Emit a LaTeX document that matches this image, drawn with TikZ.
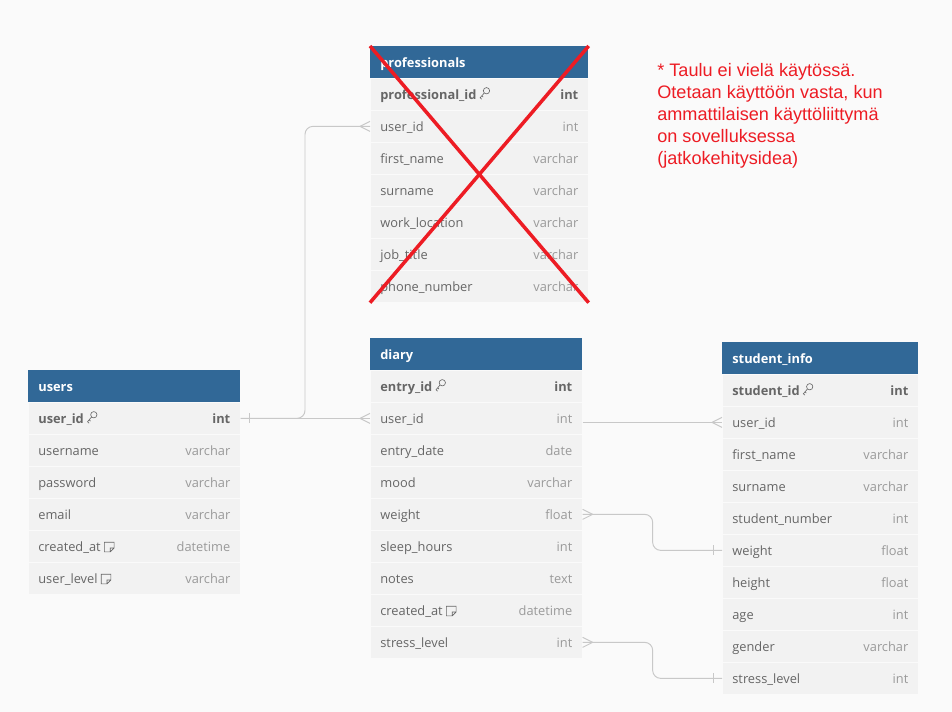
\documentclass[tikz,border=0pt]{standalone}
\usepackage{fontspec}
\setmainfont{Open Sans}
\newfontfamily\notefont{Liberation Sans}
\usetikzlibrary{positioning, calc}

\definecolor{headblue}{HTML}{316897}
\definecolor{rowgrey}{HTML}{F2F2F2}
\definecolor{pagegrey}{HTML}{FAFAFA}
\definecolor{fieldtxt}{HTML}{666666}
\definecolor{typetxt}{HTML}{9A9A9A}
\definecolor{linkgrey}{HTML}{C8C8C8}
\definecolor{crossred}{HTML}{ED1C24}

\newcommand{\keyicon}{\tikz[baseline=0pt,x=1pt,y=1pt,line width=0.35pt,color=fieldtxt]{
  \draw (3.6,5.2) circle (1.8); \draw (2.3,3.9) -- (0,1.2) -- (0.9,0.4) (0.9,2.3) -- (1.7,1.6);}}
\newcommand{\noteicon}{\tikz[baseline=0pt,x=1pt,y=1pt,line width=0.35pt,color=fieldtxt]{
  \draw (0,0) -- (0,5.5) -- (5.5,5.5) -- (5.5,2.2) -- (3.3,0) -- cycle (5.5,2.2) -- (3.3,2.2) -- (3.3,0);}}

\tikzset{
  tabhead/.style={fill=headblue, anchor=north west, minimum height=0.64cm, inner sep=0pt},
  headtext/.style={text=white, font=\bfseries\fontsize{7.3}{9}\selectfont, inner sep=0pt, text height=7pt, text depth=0.7pt},
  fieldrow/.style={fill=rowgrey, draw=pagegrey, line width=0.4pt, anchor=north west, minimum height=0.64cm, inner sep=0pt},
  fieldname/.style={text=fieldtxt, font=\fontsize{7.3}{9}\selectfont, inner sep=0pt, text height=7pt, text depth=0.7pt},
  fieldtype/.style={text=typetxt, font=\fontsize{7.3}{9}\selectfont, inner sep=0pt, text height=7pt, text depth=0.7pt},
  link/.style={draw=linkgrey, line width=0.55pt},
  many/.pic={\draw[link] (-10,0) -- (0,-5) (-10,0) -- (0,5);},
  one/.pic={\draw[link] (0,-5) -- (0,5);},
  note/.style={text=crossred, font=\notefont\fontsize{10.3}{12.5}\selectfont, align=left, inner sep=0pt}
}

\begin{document}
\begin{tikzpicture}[x=0.02cm, y=-0.02cm]
\fill[pagegrey] (0,0) rectangle (952,712);
\useasboundingbox (0,0) rectangle (952,712);

% professionals
\node[tabhead, minimum width=4.36cm] (pros-h) at (370,46) {};
\node[headtext, right=0.2cm of pros-h.west] (pros-ht) {professionals};
\foreach \n/\t [count=\i] in {professional\_id \keyicon/int, user\_id/int, first\_name/varchar,
  surname/varchar, work\_location/varchar, job\_title/varchar, phone\_number/varchar} {
\node[fieldrow, minimum width=4.36cm] (pros-\i) at (370,{78+32*(\i-1)}) {};
\node[fieldname, right=0.2cm of pros-\i.west] (pros-\i-n) {\ifnum\i=1\bfseries\fi\n};
\node[fieldtype, left=0.2cm of pros-\i.east] (pros-\i-t) {\ifnum\i=1\bfseries\color{fieldtxt}\fi\t};
}

% users
\node[tabhead, minimum width=4.24cm] (users-h) at (28,370) {};
\node[headtext, right=0.2cm of users-h.west] (users-ht) {users};
\foreach \n/\t [count=\i] in {user\_id \keyicon/int, username/varchar, password/varchar,
  email/varchar, created\_at \noteicon/datetime, user\_level \noteicon/varchar} {
\node[fieldrow, minimum width=4.24cm] (users-\i) at (28,{402+32*(\i-1)}) {};
\node[fieldname, right=0.2cm of users-\i.west] (users-\i-n) {\ifnum\i=1\bfseries\fi\n};
\node[fieldtype, left=0.2cm of users-\i.east] (users-\i-t) {\ifnum\i=1\bfseries\color{fieldtxt}\fi\t};
}

% diary
\node[tabhead, minimum width=4.24cm] (diary-h) at (370,338) {};
\node[headtext, right=0.2cm of diary-h.west] (diary-ht) {diary};
\foreach \n/\t [count=\i] in {entry\_id \keyicon/int, user\_id/int, entry\_date/date, mood/varchar,
  weight/float, sleep\_hours/int, notes/text, created\_at \noteicon/datetime, stress\_level/int} {
\node[fieldrow, minimum width=4.24cm] (diary-\i) at (370,{370+32*(\i-1)}) {};
\node[fieldname, right=0.2cm of diary-\i.west] (diary-\i-n) {\ifnum\i=1\bfseries\fi\n};
\node[fieldtype, left=0.2cm of diary-\i.east] (diary-\i-t) {\ifnum\i=1\bfseries\color{fieldtxt}\fi\t};
}

% student_info
\node[tabhead, minimum width=3.92cm] (stinfo-h) at (722,342) {};
\node[headtext, right=0.2cm of stinfo-h.west] (stinfo-ht) {student\_info};
\foreach \n/\t [count=\i] in {student\_id \keyicon/int, user\_id/int, first\_name/varchar, surname/varchar,
  student\_number/int, weight/float, height/float, age/int, gender/varchar, stress\_level/int} {
\node[fieldrow, minimum width=3.92cm] (stinfo-\i) at (722,{374+32*(\i-1)}) {};
\node[fieldname, right=0.2cm of stinfo-\i.west] (stinfo-\i-n) {\ifnum\i=1\bfseries\fi\n};
\node[fieldtype, left=0.2cm of stinfo-\i.east] (stinfo-\i-t) {\ifnum\i=1\bfseries\color{fieldtxt}\fi\t};
}

% links
\draw[link] (users-1.east) -- (diary-2.west);
\draw[link, rounded corners=0.16cm] (users-1.east) -| ($(pros-2.west)+(-65,0)$) -- (pros-2.west);
\pic at ($(users-1.east)+(9,0)$) {one};
\pic at (diary-2.west) {many};
\pic at (pros-2.west) {many};

\draw[link] (diary-2.east |- stinfo-2.west) -- (stinfo-2.west);
\pic at (stinfo-2.west) {many};

\draw[link, rounded corners=0.16cm] (diary-5.east) -- ++(70,0) |- (stinfo-6.west);
\pic[xscale=-1] at (diary-5.east) {many};
\pic at ($(stinfo-6.west)+(-9,0)$) {one};

\draw[link, rounded corners=0.16cm] (diary-9.east) -- ++(70,0) |- (stinfo-10.west);
\pic[xscale=-1] at (diary-9.east) {many};
\pic at ($(stinfo-10.west)+(-9,0)$) {one};

% table not in use
\draw[crossred, line width=2pt] (pros-h.north west) -- (pros-7.south east);
\draw[crossred, line width=2pt] (pros-h.north east) -- (pros-7.south west);

\node[note, anchor=north west] (remark) at (657,63) {* Taulu ei vielä käytössä.\\
Otetaan käyttöön vasta, kun\\ ammattilaisen käyttöliittymä\\ on sovelluksessa\\ (jatkokehitysidea)};
\end{tikzpicture}
\end{document}
